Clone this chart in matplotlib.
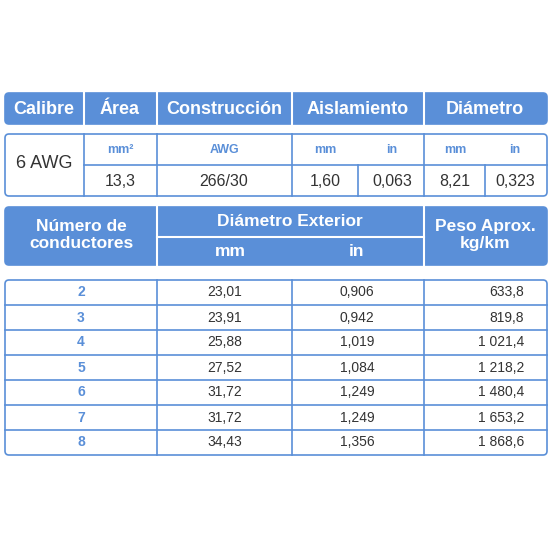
import matplotlib.pyplot as plt
from matplotlib.patches import FancyBboxPatch

plt.rcParams['font.family'] = ['Liberation Sans Narrow', 'Liberation Sans', 'DejaVu Sans']

BLUE = '#5a8fd8'
TXT = '#333333'

headers = ['Calibre', 'Área', 'Construcción', 'Aislamiento', 'Diámetro']
header_x = [44, 120, 224, 358, 485]
units = ['mm²', 'AWG', 'mm', 'in', 'mm', 'in']
units_x = [120, 224, 325, 392, 455, 515]
spec_values = ['13,3', '266/30', '1,60', '0,063', '8,21', '0,323']

conductores = ['2', '3', '4', '5', '6', '7', '8']
diam_mm = ['23,01', '23,91', '25,88', '27,52', '31,72', '31,72', '34,43']
diam_in = ['0,906', '0,942', '1,019', '1,084', '1,249', '1,249', '1,356']
peso = ['633,8', '819,8', '1 021,4', '1 218,2', '1 480,4', '1 653,2', '1 868,6']

fig = plt.figure(figsize=(5.5, 5.5), dpi=100)
ax = fig.add_axes([0, 0, 1, 1])
ax.set_xlim(0, 550)
ax.set_ylim(550, 0)
ax.axis('off')


def box(x0, y0, x1, y1, fill):
    ax.add_patch(FancyBboxPatch((x0, y0), x1 - x0, y1 - y0,
                                boxstyle='round,pad=0,rounding_size=4',
                                fc=fill, ec=BLUE, lw=1.2))


def vline(x, y0, y1, c=BLUE, lw=1.2):
    ax.plot([x, x], [y0, y1], color=c, lw=lw)


def hline(y, x0, x1, c=BLUE, lw=1.2):
    ax.plot([x0, x1], [y, y], color=c, lw=lw)


# header 1
box(5, 93, 547, 124, BLUE)
for x in [84, 157, 292, 424]:
    vline(x, 93, 124, 'white', 1.5)
for h, x in zip(headers, header_x):
    ax.text(x, 109, h, color='white', fontsize=13, fontweight='bold',
            ha='center', va='center')

# spec block
box(5, 134, 547, 196, 'white')
for x in [84, 157, 292, 424]:
    vline(x, 134, 196)
for x in [358, 485]:
    vline(x, 165, 196)
hline(165, 84, 547)
ax.text(44, 163, '6 AWG', color=TXT, fontsize=13, ha='center', va='center')
for u, x in zip(units, units_x):
    ax.text(x, 150, u, color=BLUE, fontsize=9, fontweight='bold',
            ha='center', va='center')
for v, x in zip(spec_values, [120, 224, 325, 392, 455, 515]):
    ax.text(x, 181, v, color=TXT, fontsize=11.5, ha='center', va='center')

# header 2
box(5, 207, 547, 265, BLUE)
for x in [157, 424]:
    vline(x, 207, 265, 'white', 1.5)
hline(237, 157, 424, 'white', 1.5)
ax.text(81, 235, 'Número de\nconductores', color='white', fontsize=12.5,
        fontweight='bold', ha='center', va='center', linespacing=1.1)
ax.text(290, 222, 'Diámetro Exterior', color='white', fontsize=12.5,
        fontweight='bold', ha='center', va='center')
ax.text(230, 251, 'mm', color='white', fontsize=12.5, fontweight='bold',
        ha='center', va='center')
ax.text(357, 251, 'in', color='white', fontsize=12.5, fontweight='bold',
        ha='center', va='center')
ax.text(485, 235, 'Peso Aprox.\nkg/km', color='white', fontsize=12.5,
        fontweight='bold', ha='center', va='center', linespacing=1.1)

# data block
top, rh = 280, 25
box(5, top, 547, top + rh * len(conductores), 'white')
for x in [157, 292, 424]:
    vline(x, top, top + rh * len(conductores))
for i in range(1, len(conductores)):
    hline(top + rh * i, 5, 547)
for i, (n, m, d, p) in enumerate(zip(conductores, diam_mm, diam_in, peso)):
    y = top + rh * i + rh / 2
    ax.text(81, y, n, color=BLUE, fontsize=10, fontweight='bold',
            ha='center', va='center')
    ax.text(225, y, m, color=TXT, fontsize=10, ha='center', va='center')
    ax.text(357, y, d, color=TXT, fontsize=10, ha='center', va='center')
    ax.text(524, y, p, color=TXT, fontsize=10, ha='right', va='center')

fig.savefig('out.png', dpi=100)
